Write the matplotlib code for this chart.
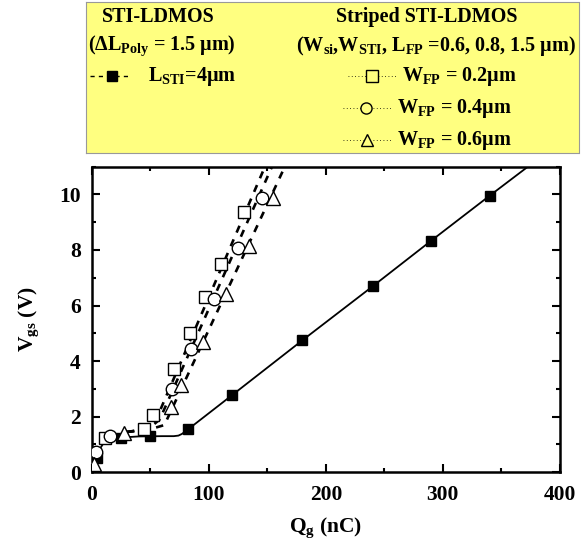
import numpy as np
import matplotlib
matplotlib.use("Agg")
import matplotlib.pyplot as plt
from matplotlib.ticker import MultipleLocator

plt.rcParams['font.family'] = ['Liberation Serif', 'DejaVu Serif']
plt.rcParams['font.weight'] = 'bold'
plt.rcParams['mathtext.fontset'] = 'custom'
plt.rcParams['mathtext.rm'] = 'Liberation Serif:bold'
plt.rcParams['mathtext.bf'] = 'Liberation Serif:bold'

# STI-LDMOS (L_STI = 4um) markers and smooth curve
qg_sti = [4.5, 24.7, 49.7, 82.4, 120, 180, 240, 290, 340]
vgs_sti = [0.53, 1.25, 1.31, 1.55, 2.78, 4.75, 6.69, 8.33, 9.95]
curve_q = [1, 2.5, 4.5, 7, 10, 15, 25, 40, 60, 70, 74, 77, 82.4, 120, 180, 240, 290, 340, 376]
curve_v = [0.05, 0.3, 0.53, 0.85, 1.05, 1.17, 1.25, 1.29, 1.3, 1.3, 1.32, 1.38, 1.55, 2.78, 4.75, 6.69, 8.33, 9.95, 11.1]

# striped STI-LDMOS, W_FP = 0.2 / 0.4 / 0.6 um
qg_w02 = [11.2, 44.6, 51.9, 70.2, 84.3, 97.1, 110, 129.8]
vgs_w02 = [1.25, 1.55, 2.05, 3.72, 5.02, 6.31, 7.48, 9.36]
qg_w04 = [3.5, 15.7, 68.3, 84.6, 104.8, 125, 145.2]
vgs_w04 = [0.73, 1.29, 2.98, 4.43, 6.24, 8.06, 9.88]
qg_w06 = [2.2, 27.2, 67.6, 76.6, 95.2, 115, 134.6, 154.8]
vgs_w06 = [0.3, 1.41, 2.35, 3.14, 4.70, 6.41, 8.13, 9.87]

# dashed guide lines
fit_q02 = [30, 45, 55, 148]
fit_v02 = [1.45, 1.55, 1.9, 11.0]
fit_q04 = [30, 48, 58, 154]
fit_v04 = [1.45, 1.55, 1.9, 11.0]
fit_q06 = [30, 50, 62, 165]
fit_v06 = [1.45, 1.55, 1.7, 11.0]

fig = plt.figure(figsize=(5.85, 5.46), dpi=100)
ax = fig.add_axes([0.157, 0.135, 0.800, 0.560])

for fq, fv in [(fit_q02, fit_v02), (fit_q04, fit_v04), (fit_q06, fit_v06)]:
    ax.plot(fq, fv, color='black', lw=1.9, dashes=(2.8, 2.8), zorder=2)
ax.plot(curve_q, curve_v, color='black', lw=1.3, zorder=2)

ax.plot(qg_sti, vgs_sti, ls='none', marker='s', ms=7.5, color='black', zorder=3)
ax.plot(qg_w02, vgs_w02, ls='none', marker='s', ms=8, mfc='white', mec='black', mew=1, zorder=3)
ax.plot(qg_w04, vgs_w04, ls='none', marker='o', ms=9, mfc='white', mec='black', mew=1, zorder=3)
ax.plot(qg_w06, vgs_w06, ls='none', marker='^', ms=10, mfc='white', mec='black', mew=1, zorder=3)

ax.set_xlim(0, 400)
ax.set_ylim(0, 11)
ax.xaxis.set_major_locator(MultipleLocator(100))
ax.xaxis.set_minor_locator(MultipleLocator(50))
ax.yaxis.set_major_locator(MultipleLocator(2))
ax.yaxis.set_minor_locator(MultipleLocator(1))
ax.tick_params(which='both', direction='in', top=True, right=True, labelsize=15.5, width=1.5)
ax.tick_params(which='major', length=6)
ax.tick_params(which='minor', length=3)
ax.tick_params(axis='x', pad=9)
ax.tick_params(axis='y', pad=8)
for sp in ax.spines.values():
    sp.set_linewidth(1.8)
for lab in ax.get_xticklabels() + ax.get_yticklabels():
    lab.set_fontweight('bold')

ax.set_xlabel(r'$\mathregular{Q_g}$ (nC)', fontsize=15.5, fontweight='bold', labelpad=8)
ax.set_ylabel(r'$\mathregular{V_{gs}}$ (V)', fontsize=15.5, fontweight='bold', labelpad=13)

# legend box drawn in its own axes (pixel-like coords)
lg = fig.add_axes([86 / 585, 1 - 153 / 546, 493 / 585, 151 / 546])
lg.set_xlim(86, 579)
lg.set_ylim(153, 2)
lg.set_xticks([])
lg.set_yticks([])
lg.set_facecolor('#ffff80')
for sp in lg.spines.values():
    sp.set_linestyle((0, (2, 1)))
    sp.set_color('#999999')
    sp.set_linewidth(0.8)

fs = 14.5
lg.text(158, 17, 'STI-LDMOS', fontsize=fs, fontweight='bold', ha='center', va='center')
lg.text(162, 46, r'($\Delta$$\mathregular{L_{Poly}}$ = 1.5 μm)', fontsize=fs, fontweight='bold', ha='center', va='center')
lg.plot([90, 130], [76, 76], color='black', lw=1, dashes=(3, 3))
lg.plot([112], [76], marker='s', ms=7, color='black', ls='none')
lg.text(148, 76, r'$\mathregular{L_{STI}}$=4μm', fontsize=fs, fontweight='bold', ha='left', va='center')

lg.text(427, 17, 'Striped STI-LDMOS', fontsize=fs, fontweight='bold', ha='center', va='center')
lg.text(436, 46, r'($\mathregular{W_{si}}$,$\mathregular{W_{STI}}$, $\mathregular{L_{FP}}$ =0.6, 0.8, 1.5 μm)',
        fontsize=fs, fontweight='bold', ha='center', va='center')
rows = [(348, 397, 372, 402, 76, 's', 'W$\\mathregular{_{FP}}$ = 0.2μm'),
        (343, 392, 366, 397, 108, 'o', 'W$\\mathregular{_{FP}}$ = 0.4μm'),
        (343, 392, 367, 397, 140, '^', 'W$\\mathregular{_{FP}}$ = 0.6μm')]
for x0, x1, xm, xt, y, mk, txt in rows:
    lg.plot([x0, x1], [y, y], color='black', lw=0.6, ls=(0, (1, 3)))
    lg.plot([xm], [y], marker=mk, ms=8, mfc='#ffff80', mec='black', mew=1, ls='none')
    lg.text(xt, y, txt, fontsize=fs, fontweight='bold', ha='left', va='center')

fig.savefig('out.png', dpi=100)
